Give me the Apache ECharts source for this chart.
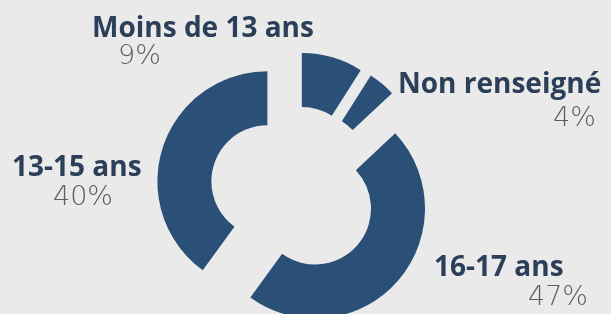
<!DOCTYPE html>
<html>
<head>
<meta charset="utf-8">
<script src="https://cdn.jsdelivr.net/npm/echarts@6/dist/echarts.min.js"></script>
<style>
  html, body { margin: 0; padding: 0; background: #eaeaea; }
  #chart { width: 611px; height: 314px; }
</style>
</head>
<body>
<div id="chart"></div>
<script>
// Data
const categories = ['Moins de 13 ans', 'Non renseigné', '16-17 ans', '13-15 ans'];
const percents = [9, 4, 47, 40];

// Label layout: left x and baseline of the name line, left x and baseline of the percentage line
const labelPos = [
  { nx: 92, nb: 36, px: 118, pb: 64 },
  { nx: 398, nb: 92, px: 553, pb: 126 },
  { nx: 434, nb: 275, px: 528, pb: 305 },
  { nx: 12, nb: 175, px: 53, pb: 205 }
];

const SLICE = '#2b5078';
const NAME_FONT = 28, PCT_FONT = 27;
const chart = echarts.init(document.getElementById('chart'), null, { renderer: 'canvas' });

const data = categories.map((c, i) => ({ name: c, value: percents[i], selected: true }));

const texts = [];
categories.forEach((c, i) => {
  const p = labelPos[i];
  texts.push({
    type: 'text', x: p.nx, y: p.nb - 21, silent: true,
    style: { text: c, font: 'bold ' + NAME_FONT + 'px "Open Sans"', fill: '#2c3f58', align: 'left', verticalAlign: 'top' }
  });
  texts.push({
    type: 'text', x: p.px, y: p.pb - 21, silent: true,
    style: { text: percents[i] + '%', font: '300 ' + PCT_FONT + 'px "DejaVu Sans"', fill: '#5e5e5e', align: 'left', verticalAlign: 'top' }
  });
});

chart.setOption({
  backgroundColor: '#eaeaea',
  animation: false,
  graphic: texts,
  series: [{
    type: 'pie',
    center: [294, 190],
    radius: [56, 110],
    startAngle: 90,
    clockwise: true,
    selectedMode: 'multiple',
    selectedOffset: 28,
    data: data,
    itemStyle: { color: SLICE, borderWidth: 0 },
    select: { itemStyle: { color: SLICE, borderWidth: 0 } },
    emphasis: { disabled: true },
    label: { show: false },
    labelLine: { show: false }
  }]
});
</script>
</body>
</html>
